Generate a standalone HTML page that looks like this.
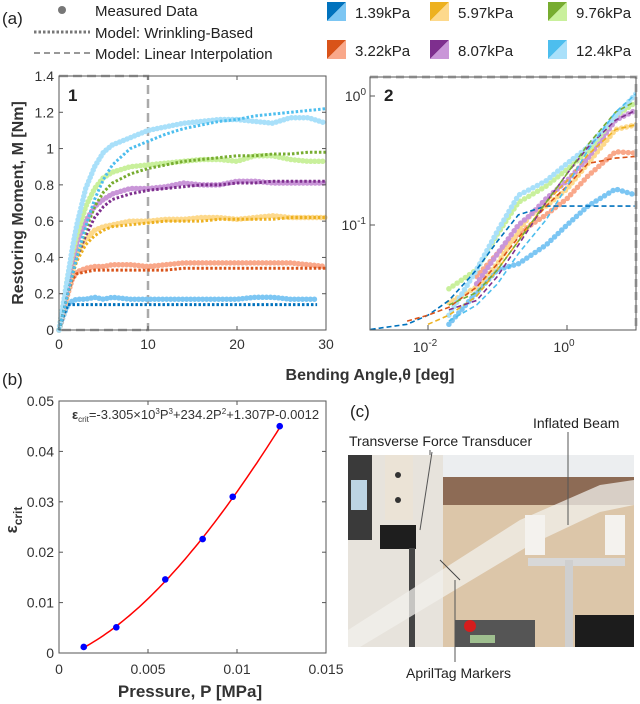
<!DOCTYPE html>
<html><head><meta charset="utf-8"><style>
body{margin:0;background:#fff;width:640px;height:704px;overflow:hidden;font-family:"Liberation Sans",sans-serif}
svg{position:absolute;left:0;top:0}
text{font-family:"Liberation Sans",sans-serif}
</style></head><body>
<svg id="fig" width="640" height="704" viewBox="0 0 640 704"></svg>
<script>
// ---------- data: panel (a)-1 ----------
const thetaLin = [0,0.5,1,1.5,2,3,4,5,6,8,10,12,14,16,18,20,22,24,26,28,30];
const pressures = ["1.39kPa","3.22kPa","5.97kPa","8.07kPa","9.76kPa","12.4kPa"];
const darkColors = ["#0072BD","#D95319","#EDB120","#7E2F8E","#77AC30","#4DBEEE"];
const lightColors = ["#7cc6f3","#f9a88a","#fdd98c","#c996d8","#c9f09c","#a9e0fa"];
const meas139 = [0,0.08,0.14,0.16,0.17,0.17,0.18,0.17,0.18,0.17,0.17,0.17,0.17,0.17,0.17,0.17,0.18,0.18,0.17,0.17,0.17];
const meas322 = [0,0.1,0.2,0.28,0.32,0.34,0.35,0.35,0.36,0.36,0.35,0.36,0.37,0.37,0.37,0.37,0.37,0.37,0.37,0.36,0.35];
const meas597 = [0,0.1,0.22,0.33,0.42,0.5,0.55,0.57,0.58,0.6,0.6,0.61,0.61,0.62,0.62,0.61,0.62,0.63,0.62,0.62,0.62];
const meas807 = [0,0.12,0.25,0.38,0.48,0.6,0.68,0.72,0.75,0.78,0.78,0.79,0.81,0.8,0.8,0.82,0.82,0.81,0.81,0.81,0.81];
const meas976 = [0,0.15,0.3,0.42,0.52,0.68,0.78,0.84,0.87,0.9,0.91,0.92,0.93,0.94,0.94,0.93,0.96,0.96,0.94,0.93,0.93];
const meas124 = [0,0.15,0.3,0.45,0.58,0.78,0.9,0.98,1.02,1.06,1.1,1.12,1.14,1.15,1.16,1.16,1.15,1.14,1.17,1.17,1.14];
const model139 = [0,0.08,0.14,0.14,0.14,0.14,0.14,0.14,0.14,0.14,0.14,0.14,0.14,0.14,0.14,0.14,0.14,0.14,0.14,0.14,0.14];
const model322 = [0,0.1,0.2,0.28,0.31,0.32,0.33,0.33,0.33,0.33,0.33,0.33,0.34,0.34,0.34,0.34,0.34,0.34,0.34,0.34,0.34];
const model597 = [0,0.1,0.2,0.3,0.38,0.47,0.52,0.55,0.57,0.58,0.59,0.6,0.6,0.6,0.61,0.61,0.61,0.61,0.62,0.62,0.62];
const model807 = [0,0.1,0.2,0.3,0.4,0.52,0.62,0.68,0.72,0.75,0.77,0.78,0.79,0.8,0.8,0.81,0.81,0.82,0.82,0.82,0.82];
const model976 = [0,0.1,0.2,0.3,0.4,0.55,0.68,0.76,0.81,0.86,0.89,0.91,0.93,0.94,0.95,0.96,0.96,0.97,0.97,0.98,0.98];
const model124 = [0,0.1,0.2,0.3,0.4,0.57,0.72,0.83,0.91,1.0,1.04,1.08,1.11,1.13,1.15,1.16,1.18,1.19,1.2,1.21,1.22];
const yTicks1 = [0,0.2,0.4,0.6,0.8,1,1.2,1.4];
const xTicks1 = [0,10,20,30];
// ---------- data: panel (a)-2 (log-log) ----------
const thetaLog = [0.02,0.05,0.1,0.2,0.3,0.5,1,2,5,10];
const lmeas139 = [0.017,0.03,0.045,0.05,0.058,0.07,0.1,0.14,0.19,0.17];
const lmeas322 = [null,0.04,0.06,0.085,0.1,0.12,0.16,0.24,0.37,0.36];
const lmeas597 = [0.025,0.033,0.05,0.09,0.12,0.14,0.19,0.3,0.55,0.6];
const lmeas807 = [null,0.035,0.06,0.1,0.12,0.16,0.22,0.33,0.65,0.78];
const lmeas976 = [0.032,0.045,0.085,0.15,0.17,0.2,0.27,0.37,0.7,0.9];
const lmeas124 = [0.02,0.045,0.09,0.17,0.19,0.22,0.3,0.4,0.7,1.05];
const thetaDash = [0.0015,0.005,0.01,0.02,0.05,0.1,0.2,0.5,1,2,5,10];
const ldash139 = [0.0155,0.017,0.02,0.026,0.045,0.075,0.12,0.14,0.14,0.14,0.14,0.14];
const ldash322 = [null,0.018,0.02,0.023,0.033,0.05,0.08,0.14,0.2,0.3,0.33,0.34];
const ldash597 = [null,null,0.017,0.02,0.028,0.045,0.075,0.15,0.22,0.35,0.55,0.6];
const ldash807 = [null,null,null,0.022,0.026,0.04,0.07,0.15,0.25,0.4,0.65,0.78];
const ldash976 = [null,null,null,0.024,0.03,0.045,0.075,0.15,0.25,0.42,0.75,0.92];
const ldash124 = [null,null,null,0.018,0.024,0.035,0.06,0.11,0.2,0.38,0.75,1.05];
// ---------- data: panel (b) ----------
const pressureMPa = [0.00139,0.00322,0.00597,0.00807,0.00976,0.0124];
const epsCrit = [0.0012,0.0051,0.0146,0.0226,0.031,0.045];
const fitCoef = [-3305,234.2,1.307,-0.0012];
const xTicksB = [0,0.005,0.01,0.015];
const yTicksB = [0,0.01,0.02,0.03,0.04,0.05];

const NS="http://www.w3.org/2000/svg";
const svg=document.getElementById('fig');
function el(tag,attrs,parent,txt){const e=document.createElementNS(NS,tag);for(const k in attrs)e.setAttribute(k,attrs[k]);if(txt!==undefined)e.textContent=txt;(parent||svg).appendChild(e);return e;}
function grp(name){const g=el('g',{},svg);return g;}
function txt(g,x,y,s,size,anchor,extra){const t=el('text',Object.assign({x:x,y:y,'font-size':size,'text-anchor':anchor||'start',fill:'#222'},extra||{}),g,s);return t;}
function path(pts){let d='';let pen=false;pts.forEach(p=>{if(p==null){pen=false;return;}d+=(pen?'L':'M')+p[0].toFixed(1)+' '+p[1].toFixed(1);pen=true;});return d;}

// ---- Panel a1 ----
const A1={x0:59,x1:326,y0:330,y1:76};
const ax1=v=>A1.x0+(v-0)/30*(A1.x1-A1.x0);
const ay1=v=>A1.y0-(v/1.4)*(A1.y0-A1.y1);
const measSets=[meas139,meas322,meas597,meas807,meas976,meas124];
const modelSets=[model139,model322,model597,model807,model976,model124];
const gA1=grp('panel-a1-chart');
const box=el('path',{d:`M${ax1(0)} ${ay1(1.4)}L${ax1(10)} ${ay1(1.4)}L${ax1(10)} ${ay1(0)}L${ax1(0)} ${ay1(0)}`,fill:'none',stroke:'#aaa','stroke-width':2.5,'stroke-dasharray':'9 5'},gA1);


measSets.forEach((s,i)=>{
  const pts=thetaLin.map((t,j)=>s[j]==null?null:[ax1(Math.min(t,i==0?29:t)),ay1(s[j])]);
  const p=el('path',{d:path(pts),fill:'none',stroke:lightColors[i],'stroke-width':5.5,'stroke-linecap':'round','stroke-dasharray':'0 4'},gA1);
  
  
});
modelSets.forEach((s,i)=>{
  const pts=thetaLin.map((t,j)=>[ax1(Math.min(t,i==0?29:t)),ay1(s[j])]);
  const p=el('path',{d:path(pts),fill:'none',stroke:darkColors[i],'stroke-width':3,'stroke-dasharray':'2.5 2'},gA1);
  
  
});
el('rect',{x:A1.x0,y:A1.y1,width:A1.x1-A1.x0,height:A1.y0-A1.y1,fill:'none',stroke:'#555','stroke-width':1},gA1);
yTicks1.forEach(v=>{el('line',{x1:A1.x0,x2:A1.x0+4,y1:ay1(v),y2:ay1(v),stroke:'#555'},gA1);el('line',{x1:A1.x1,x2:A1.x1-4,y1:ay1(v),y2:ay1(v),stroke:'#555'},gA1);txt(gA1,A1.x0-5,ay1(v)+5,String(v),14,'end',{fill:'#333'});});
xTicks1.forEach(v=>{el('line',{x1:ax1(v),x2:ax1(v),y1:A1.y0,y2:A1.y0-4,stroke:'#555'},gA1);el('line',{x1:ax1(v),x2:ax1(v),y1:A1.y1,y2:A1.y1+4,stroke:'#555'},gA1);txt(gA1,ax1(v),349,String(v),14,'middle',{fill:'#333'});});
txt(gA1,68,101,'1',17,'start',{'font-weight':'bold'});
const yl=txt(gA1,0,0,'Restoring Moment, M [Nm]',16,'middle',{'font-weight':'bold',fill:'#333',transform:'translate(23,203) rotate(-90)'});



// ---- Panel a2 ----
const A2={x0:370,x1:636,y0:330,y1:77};
const ax2=v=>428+(Math.log10(v)+2)*69.5;
const ay2=v=>96-Math.log10(v)*129;
const gA2=grp('panel-a2-loglog-chart');
const lmeas=[lmeas139,lmeas322,lmeas597,lmeas807,lmeas976,lmeas124];
const ldash=[ldash139,ldash322,ldash597,ldash807,ldash976,ldash124];
const clip=el('clipPath',{id:'c2'},gA2);el('rect',{x:A2.x0,y:A2.y1,width:A2.x1-A2.x0,height:A2.y0-A2.y1},clip);
const inner=el('g',{'clip-path':'url(#c2)'},gA2);
lmeas.forEach((s,i)=>{
  const pts=thetaLog.map((t,j)=>s[j]==null?null:[ax2(t),ay2(s[j])]);
  const p=el('path',{d:path(pts),fill:'none',stroke:lightColors[i],'stroke-width':5.5,'stroke-linecap':'round','stroke-dasharray':'0 5'},inner);
  
  
});
ldash.forEach((s,i)=>{
  const pts=thetaDash.map((t,j)=>s[j]==null?null:[ax2(t),ay2(s[j])]);
  const p=el('path',{d:path(pts),fill:'none',stroke:darkColors[i],'stroke-width':1.6,'stroke-dasharray':'5 3'},inner);
  
  
});
el('path',{d:`M${A2.x0} ${A2.y1}L${A2.x1} ${A2.y1}L${A2.x1} ${A2.y0}`,fill:'none',stroke:'#bbb','stroke-width':3,'stroke-dasharray':'8 5'},gA2);
el('rect',{x:A2.x0,y:A2.y1,width:A2.x1-A2.x0,height:A2.y0-A2.y1,fill:'none',stroke:'#555','stroke-width':1},gA2);
[[0.1,'-1'],[1,'0']].forEach(([v,e])=>{el('line',{x1:A2.x0,x2:A2.x0+5,y1:ay2(v),y2:ay2(v),stroke:'#555'},gA2);const t=txt(gA2,A2.x0-4,ay2(v)+5,'10',14,'end',{fill:'#333'});el('tspan',{dy:-6,'font-size':10},t,e);});
[[0.01,'-2'],[1,'0']].forEach(([v,e])=>{el('line',{x1:ax2(v),x2:ax2(v),y1:A2.y0,y2:A2.y0-5,stroke:'#555'},gA2);const t=txt(gA2,ax2(v)-3,352,'10',14,'middle',{fill:'#333'});el('tspan',{dy:-6,'font-size':10},t,e);});
txt(gA2,384,101,'2',17,'start',{'font-weight':'bold'});
const xl=txt(gA2,370,380,'Bending Angle,θ [deg]',16,'middle',{'font-weight':'bold',fill:'#333'});



// ---- Legends ----
const gL=grp('legend-model-types');
txt(gL,2,24,'(a)',17,'start');
el('circle',{cx:62,cy:10,r:4,fill:'#777'},gL);
txt(gL,95,16,'Measured Data',15,'start');
el('line',{x1:34,x2:90,y1:32,y2:32,stroke:'#777','stroke-width':3,'stroke-dasharray':'2.5 2'},gL);
txt(gL,95,38,'Model: Wrinkling-Based',15,'start');
el('line',{x1:34,x2:90,y1:53,y2:53,stroke:'#777','stroke-width':1.5,'stroke-dasharray':'6 4'},gL);
txt(gL,95,59,'Model: Linear Interpolation',15,'start');
const gP=grp('legend-pressures');
const legX=[327,430,548],legY=[2,40];
pressures.forEach((p,i)=>{
  const col=Math.floor(i/2),row=i%2;const x=legX[col],y=legY[row];
  const e=el('g',{},gP);
  
  
  el('polygon',{points:`${x},${y} ${x+19},${y} ${x},${y+19}`,fill:darkColors[i]},e);
  el('polygon',{points:`${x+19},${y} ${x+19},${y+19} ${x},${y+19}`,fill:lightColors[i]},e);
  txt(e,x+28,y+16,p,15,'start');
});

// ---- Panel b ----
const B={x0:59,x1:326,y0:653,y1:401};
const bx=v=>B.x0+v/0.015*(B.x1-B.x0);
const by=v=>B.y0-v/0.05*(B.y0-B.y1);
const gB=grp('panel-b-chart');
txt(gB,2,385,'(b)',17,'start');
el('rect',{x:B.x0,y:B.y1,width:B.x1-B.x0,height:B.y0-B.y1,fill:'none',stroke:'#555'},gB);
yTicksB.forEach(v=>{el('line',{x1:B.x0,x2:B.x0+4,y1:by(v),y2:by(v),stroke:'#555'},gB);el('line',{x1:B.x1,x2:B.x1-4,y1:by(v),y2:by(v),stroke:'#555'},gB);txt(gB,B.x0-5,by(v)+5,String(v),14,'end',{fill:'#333'});});
xTicksB.forEach(v=>{el('line',{x1:bx(v),x2:bx(v),y1:B.y0,y2:B.y0-4,stroke:'#555'},gB);el('line',{x1:bx(v),x2:bx(v),y1:B.y1,y2:B.y1+4,stroke:'#555'},gB);txt(gB,bx(v),674,String(v),14,'middle',{fill:'#333'});});
const fit=[];const pa=pressureMPa[0],pb=pressureMPa[pressureMPa.length-1];
for(let k=0;k<=60;k++){const P=pa+(pb-pa)*k/60;const e=fitCoef[0]*P*P*P+fitCoef[1]*P*P+fitCoef[2]*P+fitCoef[3];fit.push([bx(P),by(e)]);}
const fl=el('path',{d:path(fit),fill:'none',stroke:'#f00','stroke-width':1.5},gB);


pressureMPa.forEach((p,i)=>{const c=el('circle',{cx:bx(p),cy:by(epsCrit[i]),r:3.3,fill:'#0000ff'},gB);

});
const eq=txt(gB,72,419,'',13,'start',{fill:'#333'});
el('tspan',{'font-weight':'bold'},eq,'ε');el('tspan',{'font-size':8,dy:3},eq,'crit');el('tspan',{dy:-3},eq,'=-3.305×10');el('tspan',{'font-size':8,dy:-5},eq,'3');el('tspan',{dy:5},eq,'P');el('tspan',{'font-size':8,dy:-5},eq,'3');el('tspan',{dy:5},eq,'+234.2P');el('tspan',{'font-size':8,dy:-5},eq,'2');el('tspan',{dy:5},eq,'+1.307P-0.0012');
const eyl=txt(gB,0,0,'',17,'middle',{'font-weight':'bold',fill:'#333',transform:'translate(17,520) rotate(-90)'});
el('tspan',{},eyl,'ε');el('tspan',{'font-size':12,dy:5},eyl,'crit');
const bxl=txt(gB,190,697,'Pressure, P [MPa]',17,'middle',{'font-weight':'bold',fill:'#333'});


</script>
<!-- Panel c: photo approximation -->
<svg width="640" height="704" style="position:absolute;left:0;top:0">
  <text x="350" y="417" font-size="17" fill="#222">(c)</text>
  <text x="533" y="428" font-size="14" fill="#222">Inflated Beam</text>
  <text x="349" y="446" font-size="14" fill="#222">Transverse Force Transducer</text>
  <text x="406" y="678" font-size="14" fill="#222">AprilTag Markers</text>
  <rect x="348" y="455" width="286" height="192" fill="#dcc6a9"/>
  <rect x="440" y="455" width="194" height="22" fill="#eceef0"/>
  <rect x="440" y="477" width="194" height="28" fill="#8d6b55"/>
  <rect x="348" y="455" width="95" height="192" fill="#e7e3dc"/>
  <rect x="348" y="455" width="24" height="85" fill="#3a3a3a"/>
  <rect x="351" y="480" width="16" height="30" fill="#bcd4e4"/>
  <rect x="385" y="455" width="28" height="65" fill="#ebe3d6"/>
  <circle cx="398" cy="475" r="3" fill="#333"/><circle cx="398" cy="500" r="3" fill="#333"/>
  <rect x="380" y="525" width="36" height="24" fill="#1e1e1e"/>
  <rect x="409" y="548" width="6" height="99" fill="#444"/>
  <polygon points="348,630 520,520 600,485 634,480 634,505 600,512 530,545 360,647 348,647" fill="#f2f0ec" opacity="0.75"/>
  <rect x="525" y="515" width="20" height="40" fill="#f4f2ee"/><rect x="605" y="515" width="20" height="40" fill="#f4f2ee"/>
  <rect x="528" y="558" width="97" height="8" fill="#d8d8d8"/>
  <rect x="565" y="560" width="8" height="87" fill="#cfcfcf"/>
  <rect x="575" y="615" width="59" height="32" fill="#1c1c1c"/>
  <rect x="455" y="620" width="80" height="27" fill="#555"/>
  <rect x="470" y="635" width="25" height="8" fill="#9fbf8f"/>
  <circle cx="470" cy="626" r="6" fill="#d61d1d"/>
  <line x1="440" y1="560" x2="460" y2="580" stroke="#444"/>
  <line x1="430" y1="455" x2="430" y2="450" stroke="#555"/>
  <line x1="568" y1="432" x2="568" y2="525" stroke="#555"/>
  <line x1="432" y1="452" x2="420" y2="530" stroke="#555"/>
  <line x1="455" y1="580" x2="455" y2="662" stroke="#555"/>
</svg>
</body></html>
